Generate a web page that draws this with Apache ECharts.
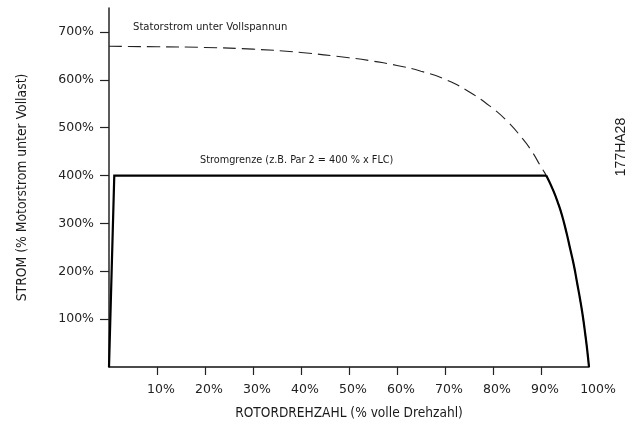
<!DOCTYPE html>
<html>
<head>
<meta charset="utf-8">
<script src="https://cdn.jsdelivr.net/npm/echarts@6/dist/echarts.min.js"></script>
<style>html,body{margin:0;padding:0;background:#fff}#c{width:632px;height:425px}</style>
</head>
<body>
<div id="c"></div>
<script>
// Tick values (percent)
const xTickValues = [10, 20, 30, 40, 50, 60, 70, 80, 90];
const xLabelValues = [10, 20, 30, 40, 50, 60, 70, 80, 90, 100];
const yTickValues = [100, 200, 300, 400, 500, 600, 700];

// Statorstrom unter Vollspannung (dashed)
const statorSpeed   = [0, 10, 20, 30, 40, 50, 55, 60, 65, 70, 75, 80, 83, 86, 88, 90, 91.1, 92.5, 93.6, 94.4, 95.3, 96.1, 96.9, 97.5, 98.15, 98.7, 99.2, 99.6, 100];
const statorCurrent = [670, 669, 667.5, 664, 657, 646, 639, 630, 618, 601, 575, 540, 513, 479, 452, 418, 400, 370, 341, 316, 281, 246, 210, 177, 141, 107, 70, 38, 0];

// Stromgrenze (solid): ramp + plateau, then drop along the stator curve
const limitRampSpeed   = [0, 1.1, 91.1];
const limitRampCurrent = [0, 400, 400];
const limitDropSpeed   = [91.1, 92.5, 93.6, 94.4, 95.3, 96.1, 96.9, 97.5, 98.15, 98.7, 99.2, 99.6, 100];
const limitDropCurrent = [400, 370, 341, 316, 281, 246, 210, 177, 141, 107, 70, 38, 0];

const pairs = (xs, ys) => xs.map((x, i) => [x, ys[i]]);

const tickFont = 'DejaVu Sans';
const noteFont = 'Liberation Sans Narrow, DejaVu Sans Condensed';
const chart = echarts.init(document.getElementById('c'), null, {renderer: 'canvas'});
chart.setOption({
  animation: false,
  backgroundColor: '#fff',
  grid: {left: 109, right: 43, top: 8, bottom: 57, containLabel: false},
  xAxis: {
    type: 'value', min: 0, max: 100, interval: 10,
    name: 'ROTORDREHZAHL (% volle Drehzahl)',
    nameLocation: 'middle', nameGap: 39,
    nameTextStyle: {fontFamily: 'DejaVu Sans Condensed', fontSize: 13.6, color: '#1a1a1a'},
    axisLine: {show: true, lineStyle: {color: '#111', width: 1.6}},
    axisTick: {show: true, inside: false, length: 8, lineStyle: {color: '#222', width: 1.2}, customValues: xTickValues},
    axisLabel: {show: true, margin: 16, fontFamily: tickFont, fontSize: 12.5, color: '#222',
      customValues: xLabelValues, padding: [0, 0, 0, 8],
      formatter: v => v === 100 ? '{h|100%}' : v + '%',
      rich: {h: {fontFamily: tickFont, fontSize: 12.5, color: '#222', padding: [0, 0, 0, 10]}}},
    splitLine: {show: false}
  },
  yAxis: {
    type: 'value', min: 0, max: 750, interval: 50,
    name: 'STROM (% Motorstrom unter Vollast)',
    nameLocation: 'middle', nameGap: 80,
    nameTextStyle: {fontFamily: 'DejaVu Sans Condensed', fontSize: 13.8, color: '#1a1a1a'},
    axisLine: {show: true, lineStyle: {color: '#333', width: 1.6}},
    axisTick: {show: true, inside: false, length: 9, lineStyle: {color: '#222', width: 1.2}, customValues: yTickValues},
    axisLabel: {show: true, margin: 15, fontFamily: tickFont, fontSize: 12.5, color: '#222',
      customValues: yTickValues, formatter: v => v + '%'},
    splitLine: {show: false}
  },
  series: [
    {
      name: 'Statorstrom', type: 'line', data: pairs(statorSpeed, statorCurrent),
      showSymbol: false, smooth: 0.5,
      lineStyle: {color: '#222', width: 1.1, type: [13, 6]}, z: 2
    },
    {
      name: 'Stromgrenze', type: 'line', data: pairs(limitRampSpeed, limitRampCurrent),
      showSymbol: false, smooth: false,
      lineStyle: {color: '#000', width: 2.2, join: 'miter'}, z: 3
    },
    {
      name: 'Stromgrenze', type: 'line', data: pairs(limitDropSpeed, limitDropCurrent),
      showSymbol: false, smooth: 0.5,
      lineStyle: {color: '#000', width: 2.2}, z: 3
    }
  ],
  graphic: [
    {type: 'text', left: 133, top: 22, style: {text: 'Statorstrom unter Vollspannun', fontFamily: noteFont, fontSize: 11.2, fill: '#1a1a1a'}},
    {type: 'text', left: 200, top: 155, style: {text: 'Stromgrenze (z.B. Par 2 = 400 % x FLC)', fontFamily: noteFont, fontSize: 10.8, fill: '#1a1a1a'}},
    {type: 'text', x: 621, y: 147, rotation: Math.PI / 2, style: {text: '177HA28', fontFamily: 'Liberation Sans', fontSize: 14, fill: '#1a1a1a', align: 'center', verticalAlign: 'middle'}}
  ]
});
</script>
</body>
</html>
